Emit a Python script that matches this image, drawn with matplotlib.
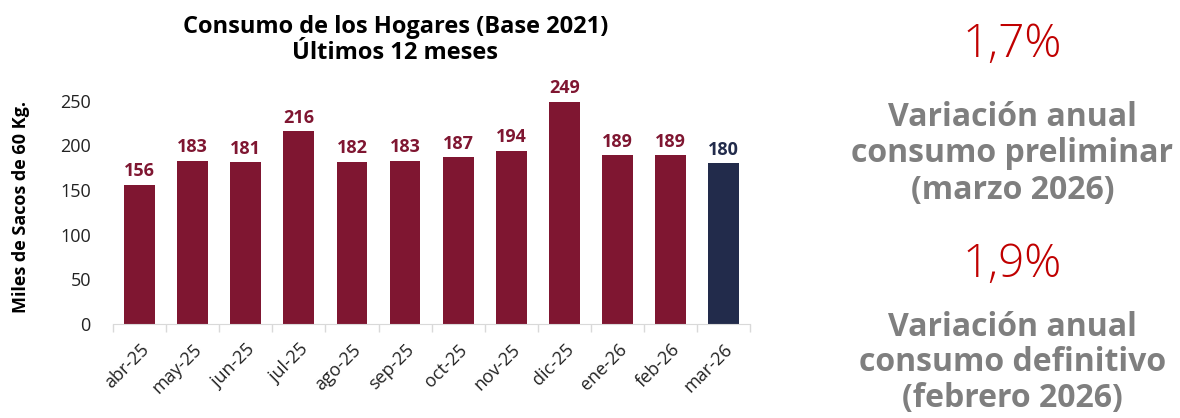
import matplotlib.pyplot as plt
import numpy as np

# Datos del gráfico
meses = ['abr-25', 'may-25', 'jun-25', 'jul-25', 'ago-25', 'sep-25',
         'oct-25', 'nov-25', 'dic-25', 'ene-26', 'feb-26', 'mar-26']
consumo = [156, 183, 181, 216, 182, 183, 187, 194, 249, 189, 189, 180]
colores = ['#7F1631'] * 11 + ['#222B4B']

var_preliminar = '1,7%'
var_definitiva = '1,9%'

plt.rcParams['font.family'] = ['Open Sans', 'DejaVu Sans']

fig = plt.figure(figsize=(11.8, 4.18), dpi=100)
ax = fig.add_axes([0.0958, 0.2249, 0.54, 0.598])

x = np.arange(len(meses))
ax.bar(x, consumo, width=0.58, color=colores)

for xi, v, c in zip(x, consumo, colores):
    ax.text(xi, v + 5, str(v), ha='center', va='bottom', fontsize=13,
            fontweight='bold', color=c)

ax.set_xlim(-0.5, len(meses) - 0.5)
ax.set_ylim(0, 280)
ax.set_yticks([0, 50, 100, 150, 200, 250])
ax.tick_params(axis='y', length=0, labelsize=13, colors='#222222', pad=16)

ax.set_xticks(x)
ax.set_xticklabels(meses, rotation=45, ha='right', rotation_mode='anchor',
                   fontsize=13, color='#222222')
ax.set_xticks(np.arange(-0.5, len(meses), 1), minor=True)
ax.tick_params(axis='x', which='major', length=0, pad=12)
ax.tick_params(axis='x', which='minor', length=6, color='#D9D9D9', width=1)

for s in ['top', 'right', 'left']:
    ax.spines[s].set_visible(False)
ax.spines['bottom'].set_color('#D9D9D9')

ax.set_ylabel('Miles de Sacos de 60 Kg.', fontsize=13, fontweight='bold')
ax.yaxis.set_label_coords(-0.13, 0.47)

fig.text(0.335, 0.905, 'Consumo de los Hogares (Base 2021)\nÚltimos 12 meses',
         ha='center', va='center', fontsize=17, fontweight='bold',
         linespacing=1.1)

# Textos a la derecha
gris = '#7F7F7F'
rojo = '#C00000'
fig.text(0.858, 0.892, var_preliminar, ha='center', va='center',
         fontsize=33, color=rojo, fontweight='light')
fig.text(0.858, 0.632, 'Variación anual\nconsumo preliminar\n(marzo 2026)',
         ha='center', va='center', fontsize=23, fontweight='bold', color=gris,
         linespacing=1.15)
fig.text(0.858, 0.366, var_definitiva, ha='center', va='center',
         fontsize=33, color=rojo, fontweight='light')
fig.text(0.858, 0.132, 'Variación anual\nconsumo definitivo\n(febrero 2026)',
         ha='center', va='center', fontsize=23, fontweight='bold', color=gris,
         linespacing=1.1)

plt.savefig('out.png', dpi=100)
